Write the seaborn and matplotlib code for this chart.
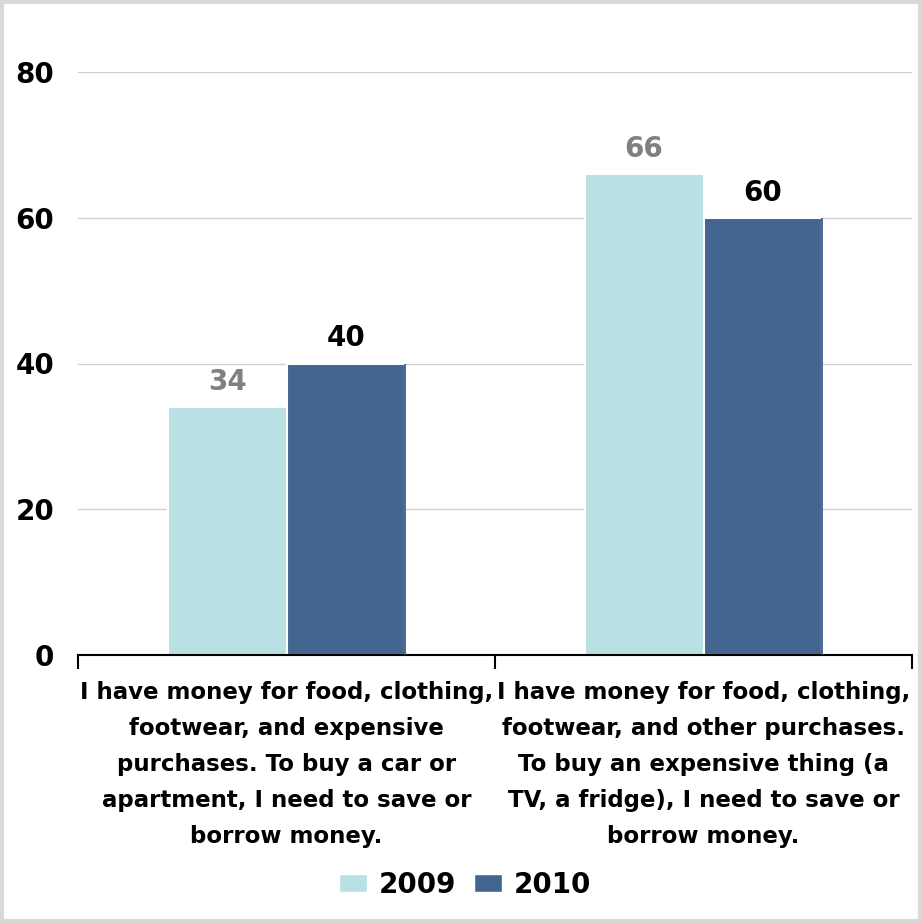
import matplotlib
matplotlib.use("Agg")
import matplotlib.pyplot as plt
import seaborn as sns
import pandas as pd
from matplotlib.patches import Patch

categories = [
    "I have money for food, clothing,\nfootwear, and expensive\npurchases. To buy a car or\napartment, I need to save or\nborrow money.",
    "I have money for food, clothing,\nfootwear, and other purchases.\nTo buy an expensive thing (a\nTV, a fridge), I need to save or\nborrow money.",
]
years = ["2009", "2010"]
values_2009 = [34, 66]
values_2010 = [40, 60]
yticks = [0, 20, 40, 60, 80]

colors = {"2009": "#b9e0e3", "2010": "#42668f"}
label_colors = {"2009": "#808080", "2010": "#000000"}

df = pd.DataFrame({
    "category": categories * 2,
    "year": [years[0]] * 2 + [years[1]] * 2,
    "value": values_2009 + values_2010,
})

sns.set_theme(style="white")
plt.rcParams["font.family"] = ["DejaVu Sans"]
plt.rcParams["font.weight"] = "bold"
plt.rcParams["text.color"] = "black"
plt.rcParams["xtick.color"] = "black"
plt.rcParams["ytick.color"] = "black"

fig = plt.figure(figsize=(9.22, 9.23), dpi=100)
ax = fig.add_axes([78 / 922, 1 - 655 / 923, (912 - 78) / 922, (655 - 72) / 923])

sns.barplot(data=df, x="category", y="value", hue="year", palette=colors,
            saturation=1, width=0.57, edgecolor="white", linewidth=1.5,
            ax=ax, legend=False)

# thin darker rim on the right side of the 2010 bars
for bar in ax.containers[1]:
    x_r = bar.get_x() + bar.get_width()
    ax.plot([x_r, x_r], [0, bar.get_height()], color="#2f4f78", linewidth=1.2,
            solid_capstyle="butt", zorder=3)

ax.set_xlim(-0.5, 1.5)
ax.set_ylim(0, 80)
ax.set_yticks(yticks)
ax.set_yticklabels([str(t) for t in yticks], fontsize=20, fontweight="bold")
ax.tick_params(axis="y", length=0, pad=17, labelcolor="black")
ax.yaxis.grid(True, color="#d0d0d0", linewidth=1)
ax.set_axisbelow(True)

ax.set_xticks([-0.5, 0.5, 1.5])
ax.set_xticklabels([])
ax.tick_params(axis="x", bottom=True, length=10, width=1.5, color="black", direction="out")
for i, cat in enumerate(categories):
    ax.text(i, -3.6, cat, ha="center", va="top", fontsize=16.5, fontweight="bold",
            linespacing=1.72, color="black", transform=ax.transData)

for s in ["left", "right", "top"]:
    ax.spines[s].set_visible(False)
ax.spines["bottom"].set_color("black")
ax.spines["bottom"].set_linewidth(1.5)
ax.set_xlabel("")
ax.set_ylabel("")

for container, yr in zip(ax.containers, years):
    ax.bar_label(container, labels=[f"{v:.0f}" for v in container.datavalues],
                 padding=8, fontsize=20, fontweight="bold", color=label_colors[yr])

handles = [Patch(facecolor=colors[y], edgecolor="white", label=y) for y in years]
fig.legend(handles=handles, loc="center", bbox_to_anchor=(465 / 922, 1 - 885 / 923),
           ncol=2, frameon=False, prop={"size": 20, "weight": "bold"},
           handlelength=1.0, handleheight=0.6, handletextpad=0.43, columnspacing=0.65)

fig.patches.append(plt.Rectangle((0.002, 0.002), 0.996, 0.996, transform=fig.transFigure,
                                 fill=False, edgecolor="#d9d9d9", linewidth=3))

fig.savefig("out.png", dpi=100, facecolor="white")
